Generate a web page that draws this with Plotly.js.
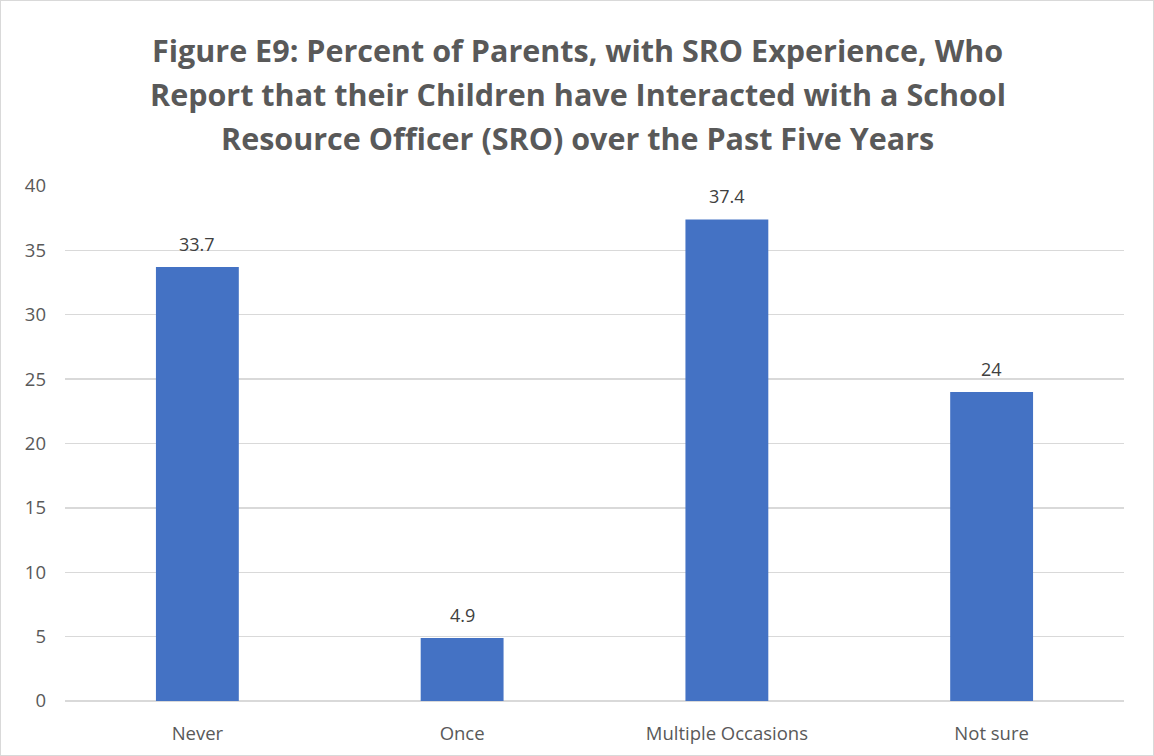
<!DOCTYPE html>
<html><head><meta charset="utf-8">
<script src="https://cdn.plot.ly/plotly-3.0.1.min.js"></script>
<style>
html,body{margin:0;padding:0;background:#fff;}
#wrap{width:1154px;height:756px;box-sizing:border-box;border:1px solid #d9d9d9;overflow:hidden;}
#chart{width:1152px;height:754px;}
</style></head>
<body><div id="wrap"><div id="chart"></div></div>
<script>
const categories = ["Never", "Once", "Multiple Occasions", "Not sure"];
const values = [33.7, 4.9, 37.4, 24];
const valueLabels = ["33.7", "4.9", "37.4", "24"];
const yTicks = [0, 5, 10, 15, 20, 25, 30, 35, 40];
const titleLines = [
  "Figure E9: Percent of Parents, with SRO Experience, Who",
  "Report that their Children have Interacted with a School",
  "Resource Officer (SRO) over the Past Five Years"
];

const FONT = "Open Sans, sans-serif";

const trace = {
  type: "bar",
  x: categories,
  y: values,
  marker: {color: "#4472C4"},
  width: 0.313,
  hoverinfo: "x+y"
};

// plot area: top 185, height 515 px (inner coords)
const plotTop = 185, plotH = 515;
const titleCenters = [49, 93, 137];

const annotations = [];
titleLines.forEach((t, i) => {
  annotations.push({
    text: "<b>" + t + "</b>",
    xref: "paper", yref: "paper",
    x: 0.4844, y: (plotTop + plotH - titleCenters[i]) / plotH,
    xanchor: "center", yanchor: "middle",
    showarrow: false,
    font: {family: FONT, size: 30.5, color: "#595959"}
  });
});
categories.forEach((c, i) => {
  annotations.push({
    text: valueLabels[i],
    x: c, y: values[i],
    xref: "x", yref: "y",
    xanchor: "center", yanchor: "bottom",
    yshift: 9,
    showarrow: false,
    font: {family: FONT, size: 18, color: "#404040"}
  });
});

const layout = {
  width: 1152, height: 754,
  margin: {l: 64, r: 29, t: plotTop, b: 54},
  paper_bgcolor: "#ffffff",
  plot_bgcolor: "#ffffff",
  showlegend: false,
  annotations: annotations,
  xaxis: {
    type: "category",
    showgrid: false,
    zeroline: false,
    showline: false,
    ticks: "",
    tickfont: {family: FONT, size: 18.5, color: "#595959"},
    ticklabelstandoff: 19
  },
  yaxis: {
    range: [0, 40],
    tickvals: yTicks,
    showgrid: true,
    gridcolor: "#d9d9d9",
    gridwidth: 1.3,
    zeroline: true,
    zerolinecolor: "#d9d9d9",
    zerolinewidth: 1.3,
    showline: false,
    ticks: "",
    tickfont: {family: FONT, size: 18.5, color: "#595959"},
    ticklabelstandoff: 18
  },
  bargap: 0.687
};

Plotly.newPlot("chart", [trace], layout, {staticPlot: true, displayModeBar: false});
</script></body></html>
